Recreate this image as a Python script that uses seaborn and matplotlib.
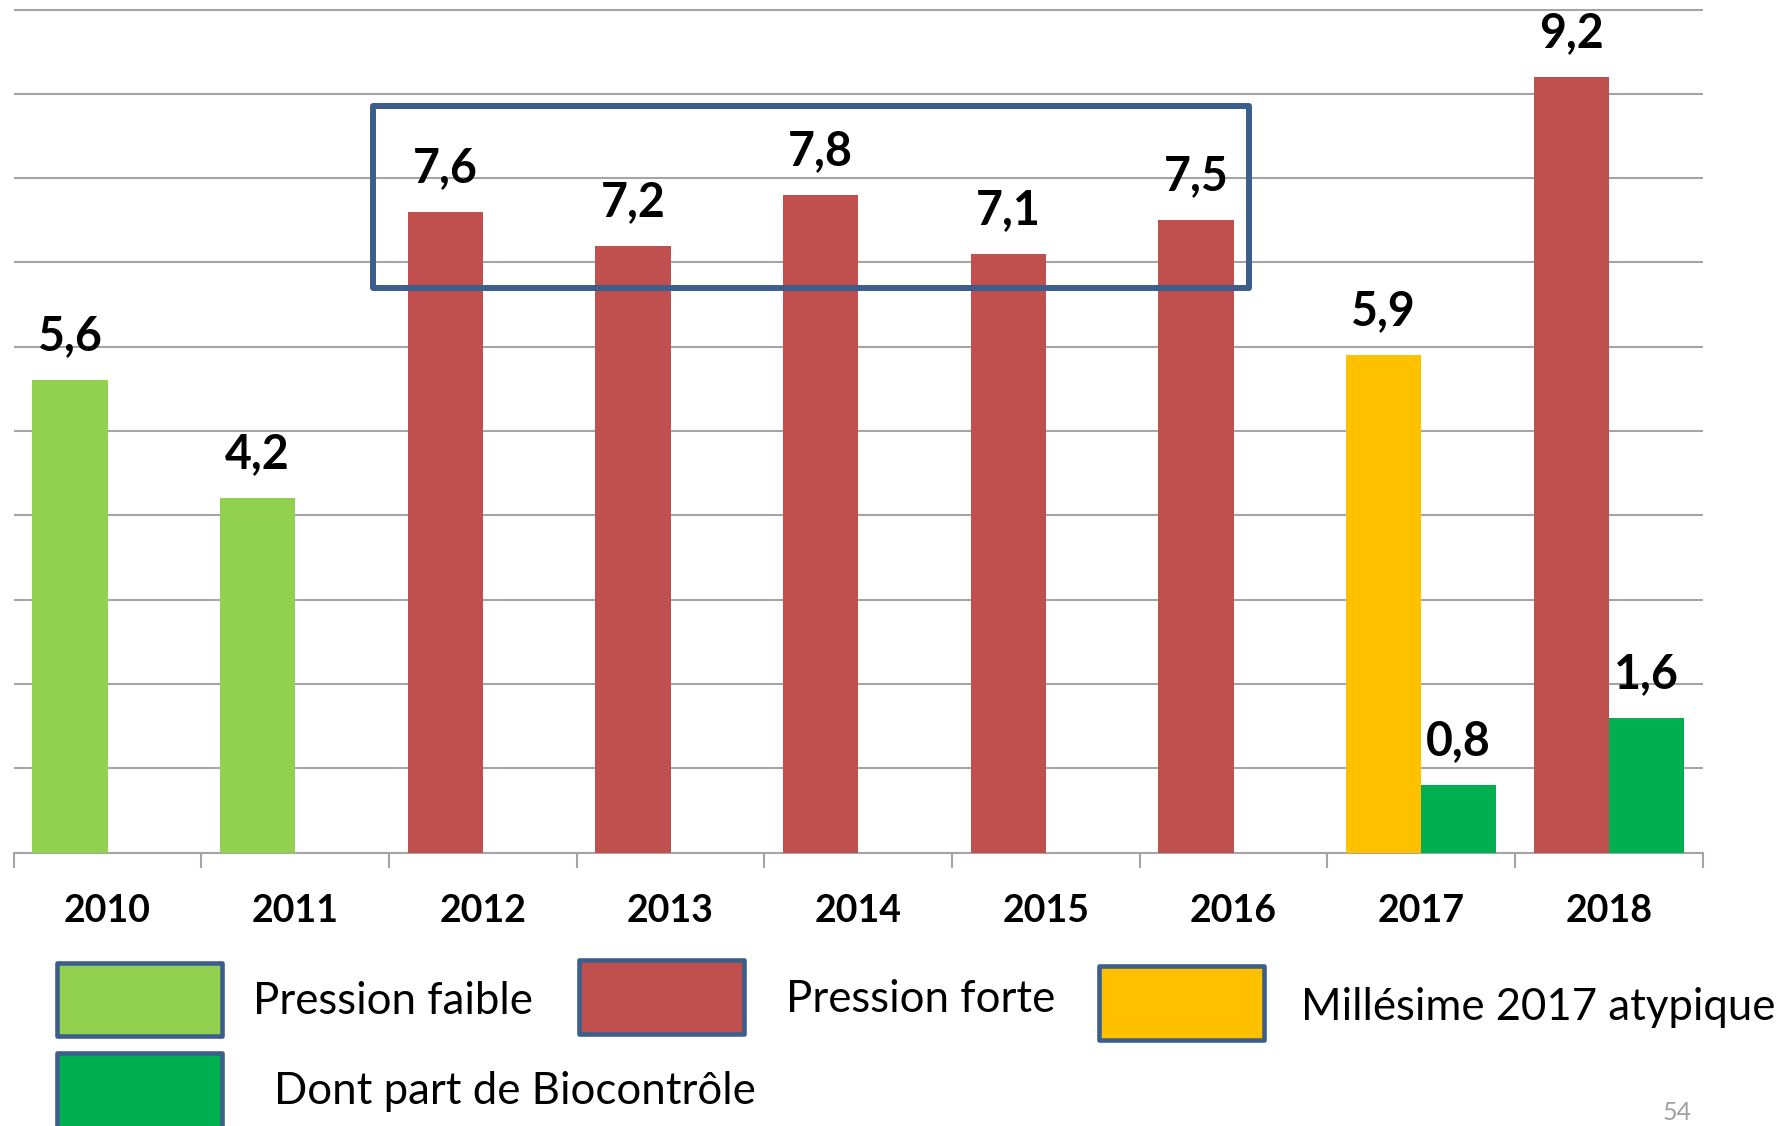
import numpy as np
import pandas as pd
import matplotlib
matplotlib.use("Agg")
import matplotlib.pyplot as plt
from matplotlib.patches import Rectangle
import seaborn as sns

# ---- data -------------------------------------------------------------
years = ["2010", "2011", "2012", "2013", "2014", "2015", "2016", "2017", "2018"]
indice = [5.6, 4.2, 7.6, 7.2, 7.8, 7.1, 7.5, 5.9, 9.2]
pression = ["faible", "faible", "forte", "forte", "forte", "forte", "forte",
            "atypique", "forte"]
bio_years = ["2017", "2018"]
biocontrole = [0.8, 1.6]

legend_labels = ["Pression faible", "Pression forte",
                 "Millésime 2017 atypique", "Dont part de Biocontrôle"]

# ---- styling ------------------------------------------------------------
COL = {"faible": "#92D050", "forte": "#C0504D", "atypique": "#FFC000",
       "bio": "#00B050"}
EDGE_BLUE = "#3B5E8C"
GRID = "#A5A5A5"

sns.set_theme(style="white")
plt.rcParams["font.family"] = ["Lato", "DejaVu Sans"]

W, H = 1787, 1126
fig = plt.figure(figsize=(W / 100, H / 100), dpi=100)

# axes placement (pixels -> figure fraction)
x0, x1 = 13.7, 1702.7
y_base = 852.5
unit = 84.3
ymax = 10.1
ax = fig.add_axes([x0 / W, 1 - y_base / H, (x1 - x0) / W, ymax * unit / H])

df = pd.concat([
    pd.DataFrame({"annee": years, "valeur": indice, "serie": "Indice"}),
    pd.DataFrame({"annee": bio_years, "valeur": biocontrole, "serie": "Biocontrôle"}),
], ignore_index=True)

sns.barplot(data=df, x="annee", y="valeur", hue="serie",
            order=years, hue_order=["Indice", "Biocontrôle"],
            width=0.8, dodge=True, saturation=1, errorbar=None,
            legend=False, ax=ax, zorder=3)

# colour each bar according to its category
for ci, cont in enumerate(ax.containers):
    for bar in cont:
        idx = int(round(bar.get_x() + bar.get_width() / 2))
        col = COL[pression[idx]] if ci == 0 else COL["bio"]
        bar.set_facecolor(col)
        bar.set_edgecolor("none")
        h = bar.get_height()
        ax.annotate(f"{h:.1f}".replace(".", ","),
                    (bar.get_x() + bar.get_width() / 2, h),
                    xytext=(0, 21.5), textcoords="offset points",
                    ha="center", va="baseline", fontsize=33.5,
                    fontweight="bold", color="black", zorder=6)

ax.set_xlim(-0.5, 8.5)
ax.set_ylim(0, ymax)
ax.set_yticks(np.arange(0, 11, 1))
ax.yaxis.grid(True, color=GRID, linewidth=1.5)
ax.set_axisbelow(True)
ax.tick_params(axis="y", left=False, labelleft=False)
ax.set_xlabel("")
ax.set_ylabel("")

for s in ["left", "right", "top"]:
    ax.spines[s].set_visible(False)
ax.spines["bottom"].set_color(GRID)
ax.spines["bottom"].set_linewidth(1.5)

# category separators below the axis, labels centred
ax.set_xticks(np.arange(-0.5, 9.0, 1.0), minor=True)
ax.tick_params(axis="x", which="minor", bottom=True, length=11,
               width=1.5, color=GRID, direction="out")
ax.tick_params(axis="x", which="major", bottom=False, length=0, pad=30)
for lbl in ax.get_xticklabels():
    lbl.set_fontsize(27)
    lbl.set_fontweight("bold")
    lbl.set_color("black")

# highlight frame around 2012-2016
ax.add_patch(Rectangle((1.413, 6.70), 6.082 - 1.413, 8.85 - 6.70,
                       fill=False, edgecolor=EDGE_BLUE, linewidth=4.3,
                       joinstyle="round", zorder=7, clip_on=False))


# ---- legend --------------------------------------------------------------
def fx(px):
    return px / W


def fy(py):
    return 1 - py / H


def legend_item(bx0, by0, bx1, by1, color, text, tx, ty):
    fig.add_artist(Rectangle((fx(bx0), fy(by1)), fx(bx1 - bx0), (by1 - by0) / H,
                             transform=fig.transFigure, facecolor=color,
                             edgecolor=EDGE_BLUE, linewidth=3.3,
                             joinstyle="round"))
    fig.text(fx(tx), fy(ty), text, ha="left", va="center",
             fontsize=31.5, color="black")


legend_item(57, 963, 222, 1036, COL["faible"], legend_labels[0], 253, 1001)
legend_item(579, 960, 744, 1034, COL["forte"], legend_labels[1], 786, 999)
legend_item(1099, 966, 1264, 1040, COL["atypique"], legend_labels[2], 1301, 1007)
legend_item(57, 1053, 222, 1135, COL["bio"], legend_labels[3], 274, 1092)

# slide number
fig.text(fx(1663), fy(1124), "54", ha="left", va="bottom", fontsize=18,
         color="#A0A0A0")

fig.savefig("out.png", dpi=100, facecolor="white")
